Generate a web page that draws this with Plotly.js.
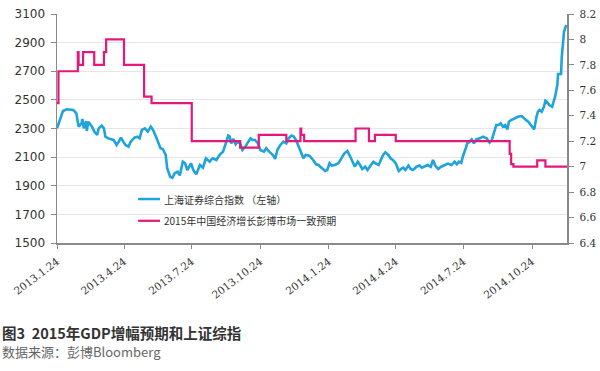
<!DOCTYPE html>
<html>
<head>
<meta charset="utf-8">
<script src="https://cdn.plot.ly/plotly-3.0.1.min.js"></script>
<style>html,body{margin:0;padding:0;background:#fff;}#chart{width:600px;height:371px;}</style>
</head>
<body>
<div id="chart"></div>
<script>
// Shanghai Composite (left axis)
const sseDates = [
'2013-01-24','2013-01-28','2013-02-01','2013-02-06','2013-02-15','2013-02-19','2013-02-22','2013-02-26','2013-02-27','2013-03-01',
'2013-03-04','2013-03-05','2013-03-07','2013-03-12','2013-03-15','2013-03-19','2013-03-21','2013-03-25','2013-03-28','2013-03-30',
'2013-04-03','2013-04-10','2013-04-14','2013-04-17','2013-04-20','2013-04-23','2013-04-26','2013-04-30','2013-05-03','2013-05-08',
'2013-05-12','2013-05-15','2013-05-18','2013-05-22','2013-05-26','2013-05-30','2013-06-02','2013-06-06','2013-06-09','2013-06-12',
'2013-06-15','2013-06-19','2013-06-21','2013-06-25','2013-06-28','2013-07-01','2013-07-05','2013-07-08','2013-07-12','2013-07-15',
'2013-07-18','2013-07-21','2013-07-23','2013-07-26','2013-07-30','2013-08-04','2013-08-08','2013-08-12','2013-08-17','2013-08-21',
'2013-08-26','2013-08-31','2013-09-04','2013-09-07','2013-09-11','2013-09-13','2013-09-15','2013-09-18','2013-09-21','2013-09-24',
'2013-09-27','2013-09-30','2013-10-04','2013-10-08','2013-10-11','2013-10-14','2013-10-17','2013-10-21','2013-10-24','2013-10-29',
'2013-11-01','2013-11-05','2013-11-10','2013-11-13','2013-11-16','2013-11-20','2013-11-24','2013-11-28','2013-12-01','2013-12-05',
'2013-12-08','2013-12-11','2013-12-14','2013-12-18','2013-12-21','2013-12-24','2013-12-29','2014-01-03','2014-01-07','2014-01-10',
'2014-01-14','2014-01-19','2014-01-22','2014-01-25','2014-01-28','2014-02-01','2014-02-06','2014-02-10','2014-02-14','2014-02-18',
'2014-02-21','2014-02-24','2014-02-28','2014-03-04','2014-03-07','2014-03-10','2014-03-14','2014-03-17','2014-03-20','2014-03-25',
'2014-03-28','2014-04-01','2014-04-04','2014-04-07','2014-04-10','2014-04-14','2014-04-17','2014-04-20','2014-04-24','2014-04-28',
'2014-05-01','2014-05-04','2014-05-07','2014-05-11','2014-05-14','2014-05-17','2014-05-22','2014-05-26','2014-05-29','2014-06-02',
'2014-06-06','2014-06-10','2014-06-13','2014-06-16','2014-06-20','2014-06-24','2014-06-29','2014-07-03','2014-07-08','2014-07-12',
'2014-07-15','2014-07-18','2014-07-21','2014-07-23','2014-07-27','2014-07-29','2014-08-01','2014-08-04','2014-08-07','2014-08-10',
'2014-08-15','2014-08-19','2014-08-24','2014-08-28','2014-08-31','2014-09-03','2014-09-06','2014-09-09','2014-09-12','2014-09-15',
'2014-09-18','2014-09-21','2014-09-23','2014-09-26','2014-10-01','2014-10-05','2014-10-10','2014-10-13','2014-10-16','2014-10-19',
'2014-10-22','2014-10-25','2014-10-27','2014-10-30','2014-11-01','2014-11-03','2014-11-06','2014-11-09','2014-11-11','2014-11-13',
'2014-11-16','2014-11-20','2014-11-22','2014-11-24','2014-11-27','2014-11-28','2014-12-02','2014-12-03','2014-12-05','2014-12-06',
'2014-12-09'
];
const sseValues = [
2301,2359,2422,2434,2429,2406,2313,2336,2366,2301,
2352,2283,2347,2313,2278,2255,2301,2320,2301,2243,
2231,2220,2185,2208,2236,2208,2185,2173,2208,2236,
2243,2231,2290,2301,2278,2313,2290,2243,2196,2162,
2157,2115,2022,1963,1956,1987,1998,1972,2068,2057,
2010,2040,2057,2010,1980,2045,2026,2092,2068,2092,
2080,2120,2138,2185,2250,2243,2196,2227,2190,2208,
2196,2150,2173,2208,2231,2220,2220,2196,2150,2138,
2162,2138,2115,2087,2150,2185,2208,2196,2231,2250,
2243,2220,2185,2138,2092,2115,2110,2080,2050,2045,
2025,2003,2010,2057,2041,2045,2057,2092,2127,2143,
2115,2080,2033,2068,2045,2017,2033,2010,2033,2068,
2057,2045,2080,2115,2134,2115,2092,2080,2057,2003,
2017,2026,2010,2041,2017,2010,2033,2041,2026,2033,
2045,2033,2080,2041,2017,2033,2045,2055,2045,2068,
2050,2068,2060,2103,2162,2196,2208,2224,2196,2224,
2231,2243,2231,2201,2220,2278,2324,2324,2336,2313,
2324,2294,2347,2359,2371,2382,2387,2371,2359,2347,
2324,2308,2294,2382,2417,2429,2417,2452,2494,2487,
2464,2452,2487,2522,2604,2681,2681,2802,2918,2976,
3023
];

// 2015 GDP growth consensus (right axis), step series
const gdpDates = [
'2013-01-24','2013-01-26','2013-02-21','2013-02-22','2013-02-28','2013-03-15','2013-03-28','2013-03-31',
'2013-04-24','2013-05-21','2013-05-31','2013-07-24','2013-09-27','2013-10-22','2013-11-28','2013-12-17',
'2013-12-18','2013-12-22','2014-03-01','2014-03-19','2014-03-27','2014-04-24','2014-09-24','2014-09-26',
'2014-09-29','2014-10-31','2014-11-11','2014-12-10'
];
const gdpValues = [
7.5,7.75,7.9,7.8,7.9,7.8,7.9,8.0,
7.8,7.55,7.5,7.2,7.15,7.25,7.2,7.3,
7.25,7.2,7.3,7.2,7.25,7.2,7.1,7.02,
7.0,7.05,7.0,7.0
];

const tickDates = ['2013-01-24','2013-04-24','2013-07-24','2013-10-24','2014-01-24','2014-04-24','2014-07-24','2014-10-24'];
const tickLabels = ['2013.1.24','2013.4.24','2013.7.24','2013.10.24','2014.1.24','2014.4.24','2014.7.24','2014.10.24'];

const seriesNames = ['上海证券综合指数 （左轴）','2015年中国经济增长彭博市场一致预期'];
const captionTitle = '图3  2015年GDP增幅预期和上证综指';
const captionSource = '数据来源：彭博Bloomberg';

const BLUE = '#1ea3dd';
const PINK = '#e4177c';

const traces = [
  {x: sseDates, y: sseValues, type: 'scatter', mode: 'lines', name: seriesNames[0],
   line: {color: BLUE, width: 2.6}, yaxis: 'y'},
  {x: gdpDates, y: gdpValues, type: 'scatter', mode: 'lines', name: seriesNames[1],
   line: {color: PINK, width: 2.2, shape: 'hv'}, yaxis: 'y2'}
];

const layout = {
  width: 600, height: 371,
  margin: {l: 57, r: 33, t: 14, b: 128},
  paper_bgcolor: '#ffffff', plot_bgcolor: '#ffffff',
  showlegend: false,
  xaxis: {
    type: 'date', range: ['2013-01-24', '2014-12-10'],
    tickmode: 'array', tickvals: tickDates, ticktext: tickLabels, tickangle: -37,
    ticks: 'outside', ticklen: 4, tickcolor: '#888', tickwidth: 1,
    ticklabelstandoff: 3,
    showline: true, linecolor: '#8a8a8a', linewidth: 1.5,
    showgrid: false, zeroline: false,
    tickfont: {family: 'DejaVu Serif', size: 10.5, color: '#333'}
  },
  yaxis: {
    range: [1500, 3100], tick0: 1500, dtick: 200,
    ticks: 'outside', ticklen: 5, tickcolor: '#888',
    ticklabelstandoff: 3,
    showline: true, linecolor: '#8a8a8a', linewidth: 1.5,
    showgrid: true, gridcolor: '#e6e6e6', gridwidth: 1, zeroline: false,
    tickfont: {family: 'DejaVu Sans', size: 12, color: '#333'}
  },
  yaxis2: {
    overlaying: 'y', side: 'right', range: [6.4, 8.2], tick0: 6.4, dtick: 0.2,
    ticks: 'outside', ticklen: 5, tickcolor: '#888',
    ticklabelstandoff: 4,
    showline: true, linecolor: '#8a8a8a', linewidth: 1.5,
    showgrid: false, zeroline: false,
    tickfont: {family: 'DejaVu Serif', size: 10.5, color: '#333'}
  },
  shapes: [
    {type: 'line', xref: 'paper', yref: 'paper', x0: 0.159, x1: 0.202, y0: 0.192, y1: 0.192,
     line: {color: BLUE, width: 2.5}},
    {type: 'line', xref: 'paper', yref: 'paper', x0: 0.159, x1: 0.202, y0: 0.097, y1: 0.097,
     line: {color: PINK, width: 2.2}}
  ],
  annotations: [
    {xref: 'paper', yref: 'paper', x: 0.206, y: 0.192, xanchor: 'left', yanchor: 'middle',
     text: seriesNames[0], showarrow: false,
     font: {family: 'Noto Sans CJK SC', size: 10, color: '#333'}},
    {xref: 'paper', yref: 'paper', x: 0.206, y: 0.097, xanchor: 'left', yanchor: 'middle',
     text: seriesNames[1], showarrow: false,
     font: {family: 'Noto Sans CJK SC', size: 10, color: '#333'}},
    {xref: 'paper', yref: 'paper', x: -0.112, y: -0.393, xanchor: 'left', yanchor: 'middle',
     text: '<b>' + captionTitle + '</b>', showarrow: false,
     font: {family: 'Noto Sans CJK SC', size: 14.5, color: '#333'}},
    {xref: 'paper', yref: 'paper', x: -0.112, y: -0.474, xanchor: 'left', yanchor: 'middle',
     text: captionSource, showarrow: false,
     font: {family: 'Noto Sans CJK SC', size: 13, color: '#666'}}
  ]
};

Plotly.newPlot('chart', traces, layout, {staticPlot: true, displayModeBar: false});
</script>
</body>
</html>
